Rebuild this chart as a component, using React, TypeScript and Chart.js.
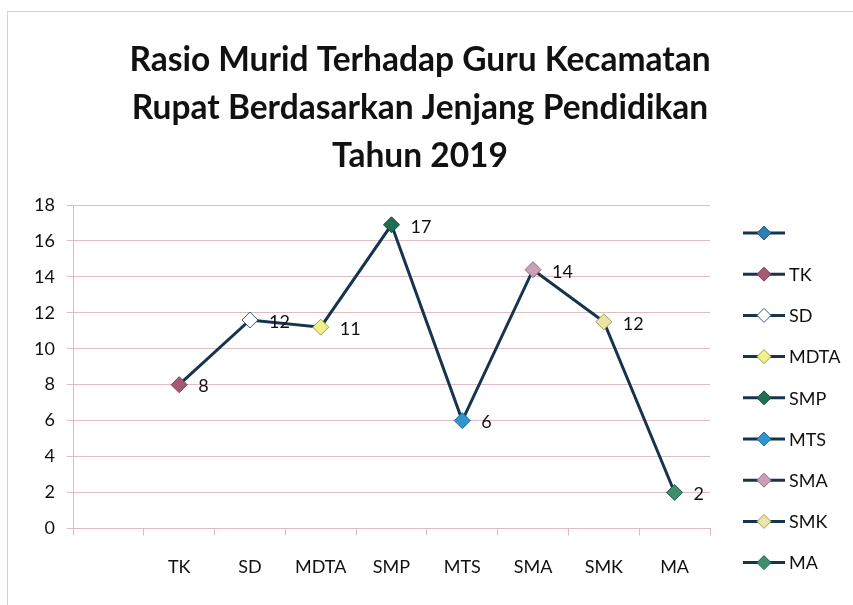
import React, { useEffect, useRef } from "react";
import { Chart, registerables } from "chart.js";

Chart.register(...registerables);

const titleLines = [
  "Rasio Murid Terhadap Guru Kecamatan",
  "Rupat Berdasarkan Jenjang Pendidikan",
  "Tahun 2019",
];
const categories = ["", "TK", "SD", "MDTA", "SMP", "MTS", "SMA", "SMK", "MA"];
const values: (number | null)[] = [null, 8.0, 11.6, 11.2, 16.9, 6.0, 14.4, 11.5, 2.0];
const dataLabels = ["", "8", "12", "11", "17", "6", "14", "12", "2"];
const pointFills = ["#2f7fb5", "#a35a72", "#ffffff", "#f2f08c", "#1f6e55", "#2e95cf", "#c9a0b8", "#ece3a6", "#3f8f6e"];
const pointEdges = ["#1d5f8c", "#7e3d55", "#3a5a78", "#9aa044", "#134a39", "#1d6f9e", "#8e6a80", "#a89c5c", "#245c46"];
const yMin = 0;
const yMax = 18;
const yStep = 2;

const LINE = "#17344f";
const GRID = "#dfbcc3";
const FONT = "Lato, 'Open Sans', sans-serif";

const labelPlugin = {
  id: "pointLabels",
  afterDatasetsDraw(chart: any) {
    const meta = chart.getDatasetMeta(0);
    const ctx = chart.ctx;
    ctx.save();
    ctx.font = `18px ${FONT}`;
    ctx.fillStyle = "#111";
    ctx.textAlign = "left";
    ctx.textBaseline = "middle";
    meta.data.forEach((pt: any, i: number) => {
      if (values[i] == null) return;
      ctx.fillText(dataLabels[i], pt.x + 19, pt.y + 2);
    });
    ctx.restore();
  },
};

const legendPlugin = {
  id: "sideLegend",
  afterDraw(chart: any) {
    const ctx = chart.ctx;
    const area = chart.chartArea;
    const x0 = area.right + 33;
    const y0 = area.top + 28;
    const step = 41.2;
    ctx.save();
    ctx.font = `18px ${FONT}`;
    ctx.textAlign = "left";
    ctx.textBaseline = "middle";
    categories.forEach((c, i) => {
      const y = y0 + i * step;
      ctx.strokeStyle = LINE;
      ctx.lineWidth = 3;
      ctx.beginPath();
      ctx.moveTo(x0, y);
      ctx.lineTo(x0 + 42, y);
      ctx.stroke();
      const cx = x0 + 21;
      ctx.beginPath();
      ctx.moveTo(cx, y - 7);
      ctx.lineTo(cx + 7, y);
      ctx.lineTo(cx, y + 7);
      ctx.lineTo(cx - 7, y);
      ctx.closePath();
      ctx.fillStyle = pointFills[i];
      ctx.fill();
      ctx.lineWidth = 1;
      ctx.strokeStyle = pointEdges[i];
      ctx.stroke();
      ctx.fillStyle = "#111";
      ctx.fillText(c, x0 + 46, y + 1);
    });
    ctx.restore();
  },
};

export default function App() {
  const ref = useRef<HTMLCanvasElement>(null);
  useEffect(() => {
    if (!ref.current) return;
    const chart = new Chart(ref.current, {
      type: "line",
      data: {
        labels: categories,
        datasets: [
          {
            data: values,
            borderColor: LINE,
            borderWidth: 3,
            pointStyle: "rectRot",
            pointRadius: 8,
            pointBackgroundColor: pointFills,
            pointBorderColor: pointEdges,
            pointBorderWidth: 1,
            spanGaps: false,
          },
        ],
      },
      options: {
        responsive: false,
        animation: false,
        layout: { padding: { top: 12, right: 13, bottom: 6, left: 0 } },
        plugins: {
          title: {
            display: true,
            text: titleLines,
            color: "#111",
            font: { family: FONT, size: 33.5, weight: "bold", lineHeight: 1.433 },
            padding: { top: 24, bottom: 25 },
          },
          legend: { display: false },
          tooltip: { enabled: false },
        },
        scales: {
          x: {
            offset: true,
            grid: { offset: true, drawOnChartArea: false, color: GRID, tickLength: 7 },
            border: { color: GRID },
            ticks: { color: "#111", font: { family: FONT, size: 18 }, padding: 21, maxRotation: 0 },
          },
          y: {
            min: yMin,
            max: yMax,
            ticks: { stepSize: yStep, color: "#111", font: { family: FONT, size: 18 }, padding: 12 },
            grid: { color: GRID, tickLength: 6 },
            border: { color: GRID },
            afterFit: (s: any) => {
              s.width = 73;
            },
          },
          yLegendSpace: {
            position: "right",
            display: true,
            grid: { drawOnChartArea: false, drawTicks: false, display: false },
            border: { display: false },
            ticks: { display: false },
            afterFit: (s: any) => {
              s.width = 130;
            },
          },
        },
      },
      plugins: [labelPlugin, legendPlugin],
    });
    return () => chart.destroy();
  }, []);
  return (
    <div style={{ position: "absolute", left: 0, top: 0, width: 853, height: 605, background: "#fff" }}>
      <div
        style={{
          position: "absolute",
          left: 7,
          top: 11,
          width: 860,
          height: 620,
          border: "1px solid #d8cfd0",
        }}
      />
      <canvas ref={ref} width={853} height={605} style={{ position: "absolute", left: 0, top: 0 }} />
    </div>
  );
}
